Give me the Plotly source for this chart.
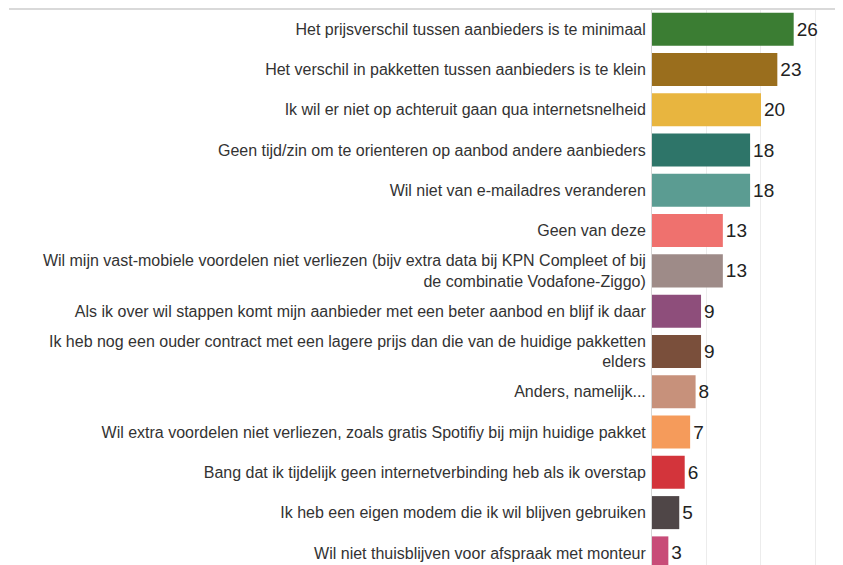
import plotly.graph_objects as go

categories = [
    "Het prijsverschil tussen aanbieders is te minimaal",
    "Het verschil in pakketten tussen aanbieders is te klein",
    "Ik wil er niet op achteruit gaan qua internetsnelheid",
    "Geen tijd/zin om te orienteren op aanbod andere aanbieders",
    "Wil niet van e-mailadres veranderen",
    "Geen van deze",
    "Wil mijn vast-mobiele voordelen niet verliezen (bijv extra data bij KPN Compleet of bij<br>de combinatie Vodafone-Ziggo)",
    "Als ik over wil stappen komt mijn aanbieder met een beter aanbod en blijf ik daar",
    "Ik heb nog een ouder contract met een lagere prijs dan die van de huidige pakketten<br>elders",
    "Anders, namelijk...",
    "Wil extra voordelen niet verliezen, zoals gratis Spotifiy bij mijn huidige pakket",
    "Bang dat ik tijdelijk geen internetverbinding heb als ik overstap",
    "Ik heb een eigen modem die ik wil blijven gebruiken",
    "Wil niet thuisblijven voor afspraak met monteur",
]
values = [26, 23, 20, 18, 18, 13, 13, 9, 9, 8, 7, 6, 5, 3]
colors = [
    "#3b7d33", "#9a6e1d", "#e8b53f", "#2e7569", "#5b9c92", "#ef716e", "#9e8b88",
    "#8e4e7b", "#7a4f3b", "#c7917b", "#f59b5b", "#d3343b", "#4f4647", "#c84c78",
]

fig = go.Figure(go.Bar(
    x=values,
    y=categories,
    orientation="h",
    marker=dict(color=colors, line=dict(width=0)),
    text=[str(v) for v in values],
    textposition="outside",
    textfont=dict(size=19, color="#222222", family="Liberation Sans, Arial, sans-serif"),
    cliponaxis=False,
))

fig.update_layout(
    width=835,
    height=557,
    margin=dict(l=644, r=3, t=1, b=0, autoexpand=False),
    paper_bgcolor="white",
    plot_bgcolor="white",
    bargap=0.18,
    showlegend=False,
    font=dict(family="Liberation Sans, Arial, sans-serif", size=16, color="#333333"),
    xaxis=dict(
        range=[0, 34.5],
        tickvals=[10, 20, 30],
        showticklabels=False,
        showgrid=True,
        gridcolor="#ececec",
        gridwidth=1,
        zeroline=False,
        showline=False,
        fixedrange=True,
    ),
    yaxis=dict(
        type="category",
        range=[13.3, -0.5],
        showgrid=False,
        zeroline=False,
        showline=True,
        linecolor="#d6d6d6",
        linewidth=1,
        ticks="",
        ticklabelstandoff=2,
        tickfont=dict(size=16, color="#333333"),
        automargin=False,
    ),
    shapes=[
        dict(type="line", xref="paper", yref="paper", x0=-3.42, x1=1.0, y0=1.0, y1=1.0,
             line=dict(color="#d9d9d9", width=2)),
    ],
)

fig.write_html("out.html")
